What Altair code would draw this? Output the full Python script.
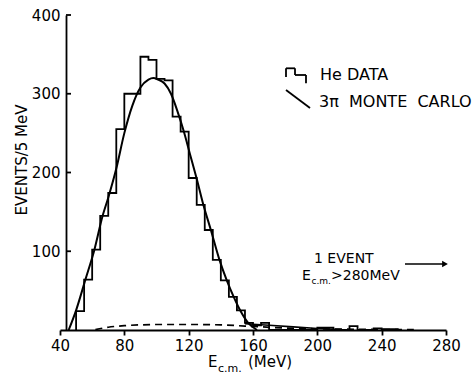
import altair as alt
import pandas as pd

# ---------------- data ----------------
bin_left = [50, 55, 60, 65, 70, 75, 80, 85, 90, 95, 100, 105, 110, 115, 120, 125,
            130, 135, 140, 145, 150, 155, 160, 165, 170, 175, 180, 185, 190, 195,
            200, 205, 210, 215, 220, 225, 230, 235, 240, 245]
bin_count = [24, 64, 102, 145, 174, 255, 300, 300, 347, 343, 319, 317, 271, 252, 193, 159,
             127, 89, 63, 42, 25, 9, 6, 9, 0, 0, 0, 0, 0, 0,
             3, 3, 0, 0, 5, 0, 0, 2, 1, 1]
bin_width = 5

mc_x = [45.4, 50, 55.8, 61.4, 66.5, 70, 75, 80, 85, 90, 95, 98, 101, 105, 109, 113,
        117, 121, 125, 129, 133.8, 139, 143.7, 148, 152, 157, 162.5]
mc_y = [0, 25, 64, 102, 145, 168, 205, 250, 285, 308, 318, 320, 318, 313, 300, 278,
        252, 222, 192, 160, 127, 90, 63, 42, 25, 9, 0]

bg_x = [62, 70, 80, 90, 100, 120, 140, 155, 165, 180, 200, 230, 260]
bg_y = [0.5, 3.5, 5.5, 6.5, 7, 7, 6.5, 5, 4, 2.5, 1.5, 0.8, 0.5]

tail_x = [155, 170, 185, 200, 215]
tail_y = [8, 6, 4, 2, 0.5]

x_ticks = [40, 80, 120, 160, 200, 240, 280]
y_ticks = [100, 200, 300, 400]

# ---------------- tables ----------------
hx, hy = [bin_left[0]], [0]
for l, c in zip(bin_left, bin_count):
    hx += [l, l + bin_width]
    hy += [c, c]
hx.append(bin_left[-1] + bin_width)
hy.append(0)
hist = pd.DataFrame({"x": hx, "y": hy, "i": range(len(hx))})
mc = pd.DataFrame({"x": mc_x, "y": mc_y})
bg = pd.DataFrame({"x": bg_x, "y": bg_y})
tail = pd.DataFrame({"x": tail_x, "y": tail_y})
ytick_df = pd.DataFrame({"y": y_ticks})
one = pd.DataFrame({"a": [0]})

FONT = "DejaVu Sans"
NB = "\u00a0"
xs = alt.Scale(domain=[40, 280], nice=False, zero=False)
ys = alt.Scale(domain=[0, 400], nice=False)

base_hist = alt.Chart(hist).mark_line(color="black", strokeWidth=1.8).encode(
    x=alt.X("x:Q", scale=xs, axis=alt.Axis(
        values=x_ticks, title=None, grid=False, tickSize=5, tickWidth=1.8,
        domainWidth=1.8, domainColor="black", tickColor="black", labelPadding=3,
        labelFont=FONT, labelFontSize=15, labelColor="black", labelFlush=False)),
    y=alt.Y("y:Q", scale=ys, axis=alt.Axis(
        values=y_ticks, title=None, grid=False, ticks=False, offset=-6,
        domainWidth=1.8, domainColor="black", labelPadding=6,
        labelFont=FONT, labelFontSize=15, labelColor="black")),
    order="i:Q",
)

curve = alt.Chart(mc).mark_line(color="black", strokeWidth=2, interpolate="monotone").encode(
    x="x:Q", y="y:Q")
dashed = alt.Chart(bg).mark_line(color="black", strokeWidth=1.7, strokeDash=[7, 5],
                                 interpolate="monotone").encode(x="x:Q", y="y:Q")
tail_line = alt.Chart(tail).mark_line(color="black", strokeWidth=1.6).encode(x="x:Q", y="y:Q")

yticks_in = alt.Chart(ytick_df).mark_rule(color="black", strokeWidth=1.8).encode(
    y="y:Q", x=alt.value(6), x2=alt.value(11))


def txt(s, px, py, size=14, align="left", angle=0, baseline="alphabetic"):
    kw = dict(align=align, baseline=baseline, font=FONT, fontSize=size, color="black")
    if angle:
        kw["angle"] = angle
    return alt.Chart(one).mark_text(**kw).encode(
        x=alt.value(px), y=alt.value(py), text=alt.value(s))


def seg(x1, y1, x2, y2, w=1.8):
    return alt.Chart(one).mark_rule(color="black", strokeWidth=w).encode(
        x=alt.value(x1), y=alt.value(y1), x2=alt.value(x2), y2=alt.value(y2))


annot = [
    # legend
    seg(226, 62, 226, 53.3), seg(226, 53.3, 235, 53.3), seg(235, 53.3, 235, 60),
    seg(235, 60, 246, 60), seg(246, 60, 246, 68.3),
    seg(226, 75, 250, 93),
    txt("He DATA", 260, 65, 16),
    txt("3π" + NB * 2 + "MONTE" + NB * 2 + "CARLO", 259, 92, 16),
    # event note
    txt("1 EVENT", 254, 248, 14),
    txt("E", 242, 265, 14),
    txt("c.m.", 251.5, 269, 9),
    txt(">280MeV", 271, 265, 14),
    seg(345, 249, 383, 249, 1.5),
    alt.Chart(one).mark_point(shape="triangle-right", filled=True, size=45, color="black",
                              opacity=1).encode(x=alt.value(385), y=alt.value(249)),
    # axis titles
    txt("E", 148, 352, 15),
    txt("c.m.", 158, 357, 11),
    txt("(MeV)", 188, 352, 15),
    txt("EVENTS/5 MeV", -38, 145, 15, align="center", angle=270, baseline="middle"),
]

chart = alt.layer(base_hist, curve, dashed, tail_line, yticks_in, *annot).properties(
    width=386, height=315,
    padding={"left": 60, "top": 15, "right": 30, "bottom": 45},
    autosize=alt.AutoSizeParams(type="none"),
).configure_view(stroke=None)

chart.save("out.html", embed_options={"renderer": "svg", "actions": False})
